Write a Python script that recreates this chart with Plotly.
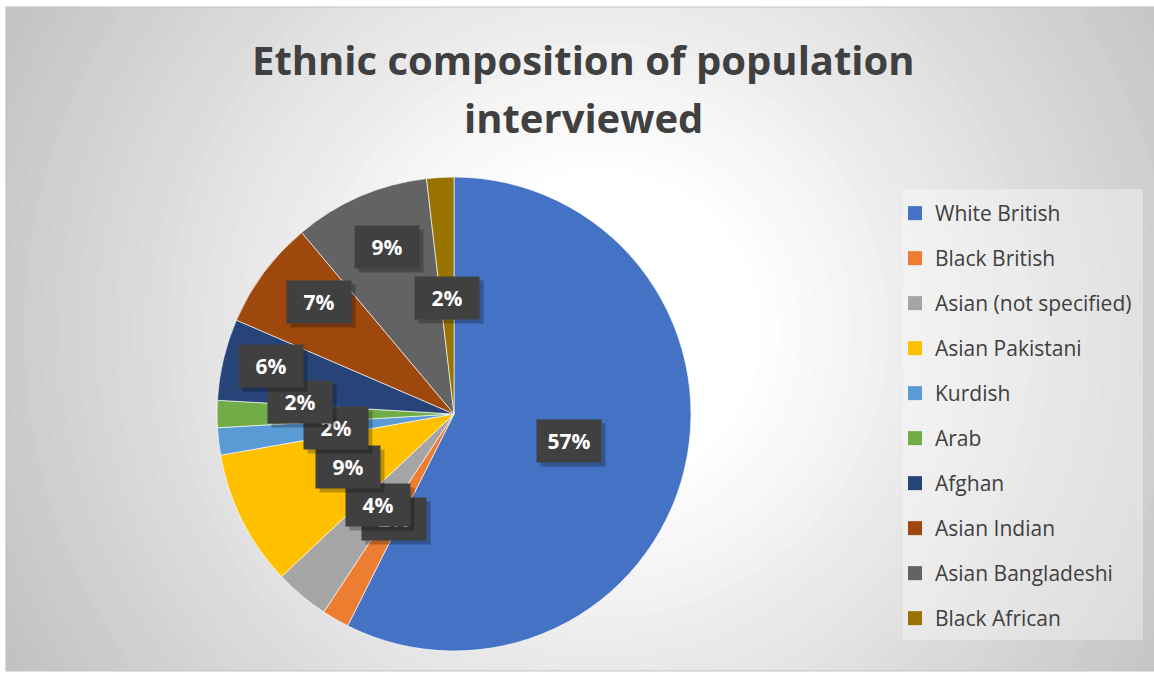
import math
import plotly.graph_objects as go

# ---------------- data ----------------
categories = ["White British", "Black British", "Asian (not specified)", "Asian Pakistani",
              "Kurdish", "Arab", "Afghan", "Asian Indian", "Asian Bangladeshi", "Black African"]
counts = [31, 1, 2, 5, 1, 1, 3, 4, 5, 1]
colors = ["#4472C4", "#ED7D31", "#A5A5A5", "#FFC000", "#5B9BD5",
          "#70AD47", "#264478", "#9E480E", "#636363", "#997300"]
title_lines = ["Ethnic composition of population", "interviewed"]

# ---------------- layout constants ----------------
W, H = 1154, 674
CX, CY, R = 454, 414, 237          # pie centre / radius in px
FONT = "Open Sans"
TXT = "#404040"
# label placement (Excel "best fit"-like): radial fraction and angular nudge
label_r = [0.5, 0.51, 0.5, 0.5, 0.5, 0.65, 0.8, 0.74, 0.76, 0.49]
label_dang = [0, 0, 0, 0, 0, 4.5, 1.3, 3.2, 1.6, 0]


def px(x):
    return x / W


def py(y):
    return 1 - y / H


fig = go.Figure()

fig.add_trace(go.Pie(
    labels=categories, values=counts, sort=False, direction="clockwise", rotation=0,
    marker=dict(colors=colors, line=dict(color="rgba(255,255,255,0.8)", width=0.8)),
    textinfo="none", hoverinfo="label+percent", showlegend=False,
    domain=dict(x=[px(CX - R), px(CX + R)], y=[py(CY + R), py(CY - R)]),
))

# legend entries (one square marker per category)
for i, (c, col) in enumerate(zip(categories, colors)):
    fig.add_trace(go.Scatter(
        x=[None], y=[None], mode="markers", name=c, legendgroup=f"g{i}",
        marker=dict(symbol="square", size=14, color=col), showlegend=True,
    ))

# ---------------- background (radial gradient imitation) ----------------
shapes = []
GCX, GCY = 600, 330
N = 40
rmax = 720
for k in range(N):
    r = rmax * (1 - k / N)
    if r <= 170:
        v = 255
    else:
        v = 255 - (r - 170) * 0.118
    v = int(max(190, min(255, v)))
    shapes.append(dict(type="circle", xref="paper", yref="paper",
                       x0=px(GCX - r), x1=px(GCX + r), y0=py(GCY + r), y1=py(GCY - r),
                       fillcolor=f"rgb({v},{v},{v})", line=dict(width=0), layer="below"))
# white page margins outside the chart frame
FX0, FY0, FX1, FY1 = 6, 7, 1154, 671
for (a, b, c, d) in [(-50, -50, FX0, H + 50), (-50, -50, W + 50, FY0),
                     (-50, FY1, W + 50, H + 50)]:
    shapes.append(dict(type="rect", xref="paper", yref="paper",
                       x0=px(a), x1=px(c), y0=py(d), y1=py(b),
                       fillcolor="white", line=dict(width=0), layer="below"))
shapes.append(dict(type="rect", xref="paper", yref="paper",
                   x0=px(FX0), x1=px(FX1 + 2), y0=py(FY1), y1=py(FY0),
                   fillcolor="rgba(0,0,0,0)", line=dict(color="#c4c4c4", width=1.2), layer="below"))
# legend panel
shapes.append(dict(type="rect", xref="paper", yref="paper",
                   x0=px(903), x1=px(1143), y0=py(640), y1=py(189),
                   fillcolor="rgba(255,255,255,0.35)", line=dict(width=0), layer="below"))

# ---------------- annotations ----------------
annotations = []
annotations.append(dict(text=f"<b>{title_lines[0]}</b>", x=px(583), y=py(60), xref="paper", yref="paper",
                        showarrow=False, xanchor="center", yanchor="middle",
                        font=dict(family=FONT, size=40, color=TXT)))
annotations.append(dict(text=f"<b>{title_lines[1]}</b>", x=px(583), y=py(117), xref="paper", yref="paper",
                        showarrow=False, xanchor="center", yanchor="middle",
                        font=dict(family=FONT, size=40, color=TXT)))

total = sum(counts)
cum = 0
for i, v in enumerate(counts):
    a0 = cum / total * 360
    cum += v
    a1 = cum / total * 360
    mid = math.radians((a0 + a1) / 2 + label_dang[i])
    rr = label_r[i] * R
    lx = CX + rr * math.sin(mid)
    ly = CY - rr * math.cos(mid)
    pct = f"{round(v / total * 100)}%"
    # shadow
    annotations.append(dict(text=" ", x=px(lx + 4), y=py(ly + 4), xref="paper", yref="paper",
                            xanchor="center", yanchor="middle",
                            showarrow=False, width=62, height=40, bgcolor="rgba(0,0,0,0.25)",
                            font=dict(size=20)))
    annotations.append(dict(text=f"<b>{pct}</b>", x=px(lx), y=py(ly), xref="paper", yref="paper",
                            xanchor="center", yanchor="middle",
                            showarrow=False, width=62, height=40, bgcolor="#404040",
                            align="center", valign="middle",
                            font=dict(family=FONT, size=21, color="white")))

fig.update_layout(
    width=W, height=H, autosize=False,
    margin=dict(l=0, r=0, t=0, b=0),
    paper_bgcolor="white", plot_bgcolor="rgba(0,0,0,0)",
    xaxis=dict(visible=False), yaxis=dict(visible=False),
    shapes=shapes, annotations=annotations,
    showlegend=True,
    legend=dict(x=px(895), y=py(193), xanchor="left", yanchor="top",
                bgcolor="rgba(0,0,0,0)", tracegroupgap=14.7,
                font=dict(family=FONT, size=21, color=TXT)),
)

fig.write_html("out.html", config={"displayModeBar": False},
               post_script="document.body.style.margin='0px';"
                           "document.documentElement.style.overflow='hidden';")
